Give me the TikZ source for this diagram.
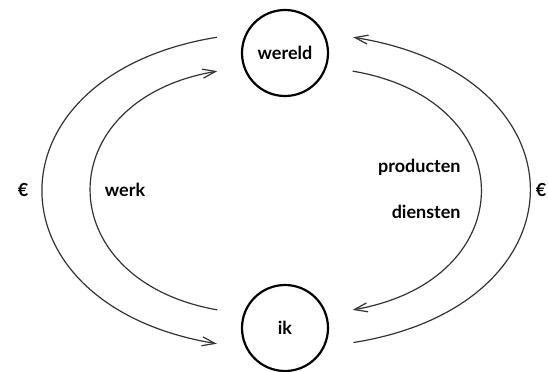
\documentclass[tikz,border=0pt]{standalone}
\usepackage{fontspec}
\setmainfont{Lato}
\usepackage{tikz}
\usetikzlibrary{arrows.meta}

\begin{document}
\begin{tikzpicture}[x=0.5pt, y=-0.5pt,
    every node/.style={font=\fontsize{9}{11}\selectfont\bfseries},
    partij/.style={circle, draw, line width=1.1pt, minimum size=43pt, inner sep=0pt, outer sep=13.5pt},
    stroom/.style={draw=black!80, line width=0.6pt, -{Straight Barb[length=6.5pt, width=4.5pt]}},
    tekst/.style={inner sep=1pt}]
  \useasboundingbox (0,0) rectangle (548,371);

  \node[partij] (wereld) at (285,53) {wereld};
  \node[partij] (ik) at (285,328) {ik};

  % geld en werk links
  \draw[stroom] (wereld.167) .. controls (-16,75) and (-16,305) .. (ik.193);
  \draw[stroom] (ik.165) .. controls (48,280) and (48,100) .. (wereld.195);
  % goederen en geld rechts
  \draw[stroom] (wereld.-15) .. controls (524,100) and (524,280) .. (ik.15);
  \draw[stroom] (ik.-12) .. controls (589,305) and (589,75) .. (wereld.13);

  \node[tekst] (euroL) at (23,190) {€};
  \node[tekst] (werk) at (125,190) {werk};
  \node[tekst, anchor=east] (producten) at (463,167) {producten};
  \node[tekst, anchor=east] (diensten) at (463,212) {diensten};
  \node[tekst] (euroR) at (541,190) {€};
\end{tikzpicture}
\end{document}
